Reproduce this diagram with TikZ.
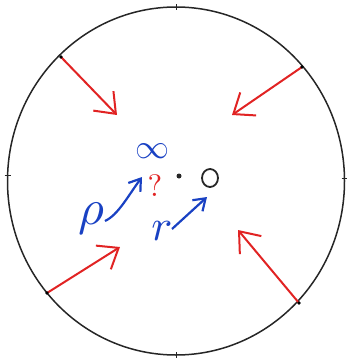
\documentclass[tikz,border=0pt]{standalone}
\usetikzlibrary{arrows.meta,calc,shapes.geometric}
\definecolor{penred}{RGB}{225,35,35}
\definecolor{penblue}{RGB}{25,65,195}
\begin{document}
\begin{tikzpicture}[x=1pt,y=-1pt,
  rim/.style={line width=1.5pt,black!85},
  inarrow/.style={line width=2pt,penred,-{Straight Barb[length=18pt,width=28pt,line width=2pt]}},
  bluearrow/.style={line width=2.2pt,penblue,-{Straight Barb[length=11pt,width=15pt,line width=2.2pt]}},
  bluelbl/.style={text=penblue,inner sep=0pt},
  tick/.style={line width=1pt,black!85}]
\useasboundingbox (0,0) rectangle (347,359);
\coordinate (c) at (176,181);
\draw[rim] (c) ellipse [x radius=168.5, y radius=174];
% ticks
\coordinate (tt) at (176,7);
\coordinate (tb) at (176,355);
\coordinate (tl) at (7.5,175);
\coordinate (tr) at (344.5,178);
\draw[tick] ($(tt)+(0,-3)$) -- ($(tt)+(0,3)$);
\draw[tick] ($(tb)+(0,-3)$) -- ($(tb)+(0,3)$);
\draw[tick] ($(tl)+(-3,0)$) -- ($(tl)+(3,0)$);
\draw[tick] ($(tr)+(-3,0)$) -- ($(tr)+(3,0)$);
% red arrows
\coordinate (a1) at (61,57);   \coordinate (b1) at (117,115);
\coordinate (a2) at (302,67);  \coordinate (b2) at (232,115);
\coordinate (a3) at (47,293);  \coordinate (b3) at (120,247);
\coordinate (a4) at (299,303); \coordinate (b4) at (238,230);
\draw[inarrow] (a1) -- (b1);
\draw[inarrow] (a2) -- (b2);
\draw[inarrow] (a3) -- (b3);
\draw[inarrow] (a4) -- (b4);
\foreach \p in {a1,a2,a3,a4} \fill[black] (\p) circle (1.8pt);
% labels
\node[bluelbl,scale=3.4] (inf) at (152,151) {$\infty$};
\node[bluelbl,scale=5] (rho) at (91,219) {$\rho$};
\node[text=penred,scale=3.1,inner sep=0pt] (q) at (155,186) {?};
\node[bluelbl,scale=4.4] (r) at (162,231) {$r$};
\fill[black!85] (179,176) circle (2.5pt);
\node[draw=black!85,line width=1.8pt,ellipse,minimum width=16pt,minimum height=18pt,inner sep=0pt] (o) at (210,178) {};
\coordinate (rhoend) at (142,177);
\coordinate (rend) at (207,197);
\draw[bluearrow] (105,221) .. controls (118,215) and (128,196) .. (rhoend);
\draw[bluearrow] (172,229) -- (rend);
\end{tikzpicture}
\end{document}
